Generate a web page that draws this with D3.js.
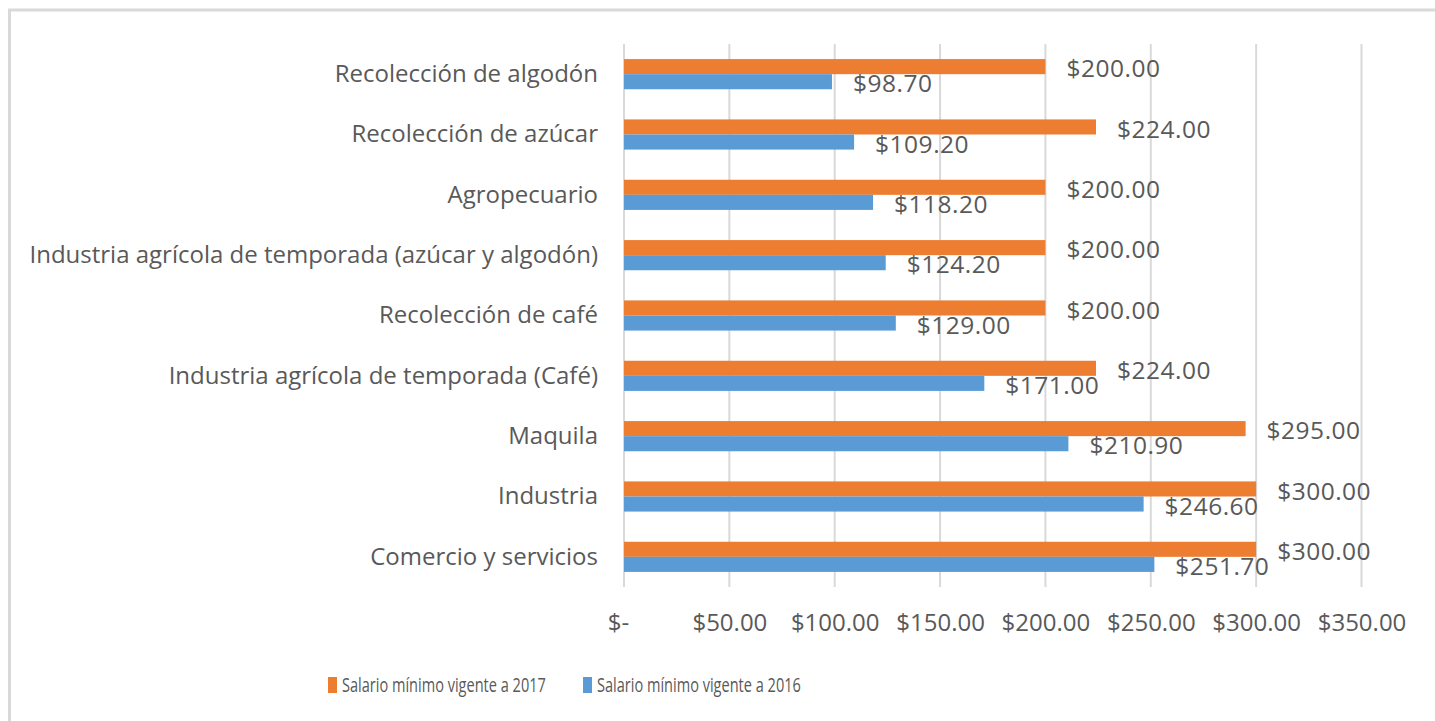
<!DOCTYPE html>
<html><head><meta charset="utf-8">
<script src="https://cdn.jsdelivr.net/npm/d3@7"></script>
<style>html,body{margin:0;padding:0;background:#fff;overflow:hidden}</style>
</head><body>
<svg id="chart" width="1435" height="721"></svg>
<script>
const categories = ["Recolección de algodón","Recolección de azúcar","Agropecuario","Industria agrícola de temporada (azúcar y algodón)","Recolección de café","Industria agrícola de temporada (Café)","Maquila","Industria","Comercio y servicios"];
const seriesNames = ["Salario mínimo vigente a 2017","Salario mínimo vigente a 2016"];
const values2017 = [200,224,200,200,200,224,295,300,300];
const values2016 = [98.7,109.2,118.2,124.2,129,171,210.9,246.6,251.7];
const tickValues = [0,50,100,150,200,250,300,350];
const colors = ["#ED7D31","#5B9BD5"];

const svg = d3.select("#chart");
const FONT = "'Open Sans', Lato, sans-serif";
const textColor = "#595959";

// outer border
svg.append("rect").attr("x",9.5).attr("y",10).attr("width",1440).attr("height",730)
  .attr("fill","none").attr("stroke","#d9d9d9").attr("stroke-width",3);

const pLeft = 624, pRight = 1361.5, pTop = 44, pBottom = 587;
const x = d3.scaleLinear().domain([0,350]).range([pLeft,pRight]);
const y = d3.scaleBand().domain(categories).range([pTop,pBottom]).paddingInner(0.5).paddingOuter(0.25);
const sub = d3.scaleBand().domain(seriesNames).range([0,y.bandwidth()]);

// gridlines
svg.append("g").selectAll("line").data(tickValues).join("line")
  .attr("x1",d=>x(d)).attr("x2",d=>x(d)).attr("y1",pTop).attr("y2",pBottom)
  .attr("stroke","#d9d9d9").attr("stroke-width",2);

// x tick labels via axis
const xAxis = d3.axisBottom(x).tickValues(tickValues).tickSize(0).tickPadding(0)
  .tickFormat(d=> d===0 ? "$-" : "$"+d3.format(",.2f")(d));
const gx = svg.append("g").attr("transform",`translate(0,${pBottom+27})`).call(xAxis);
gx.select(".domain").remove();
gx.selectAll("text").attr("font-family",FONT).attr("font-size",24).attr("fill",textColor).attr("dy","0.71em");
gx.selectAll(".tick").filter(d=>d===0).select("text").attr("dx",-6);

// y labels via axis
const yAxis = d3.axisLeft(y).tickSize(0).tickPadding(26);
const gy = svg.append("g").attr("transform",`translate(${pLeft},0)`).call(yAxis);
gy.select(".domain").remove();
gy.selectAll("text").attr("font-family",FONT).attr("font-size",24).attr("fill",textColor);

const data = categories.map((c,i)=>({cat:c, vals:[
  {s:seriesNames[0], v:values2017[i], c:colors[0]},
  {s:seriesNames[1], v:values2016[i], c:colors[1]}]}));

const groups = svg.append("g").selectAll("g").data(data).join("g")
  .attr("transform",d=>`translate(0,${y(d.cat)})`);
groups.selectAll("rect").data(d=>d.vals).join("rect")
  .attr("x",x(0)).attr("y",d=>sub(d.s)).attr("width",d=>x(d.v)-x(0)).attr("height",sub.bandwidth())
  .attr("fill",d=>d.c);
groups.selectAll("text").data(d=>d.vals).join("text")
  .attr("x",d=>x(d.v)+21).attr("y",d=>sub(d.s)+sub.bandwidth()/2+2)
  .attr("dy","0.35em").attr("font-family",FONT).attr("font-size",24.5).attr("letter-spacing",0.5).attr("fill",textColor)
  .text(d=>"$"+d3.format(",.2f")(d.v));

// legend
const legendX = [328,583];
const lg = svg.append("g").selectAll("g").data(seriesNames).join("g")
  .attr("transform",(d,i)=>`translate(${legendX[i]},685)`);
lg.append("rect").attr("x",0).attr("y",-8).attr("width",9).attr("height",16).attr("fill",(d,i)=>colors[i]);
lg.append("text").attr("transform","translate(14,0) scale(0.71,1)").attr("dy","0.35em").attr("font-family",FONT)
  .attr("font-size",20.5).attr("fill",textColor).text(d=>d);
</script>
</body></html>
